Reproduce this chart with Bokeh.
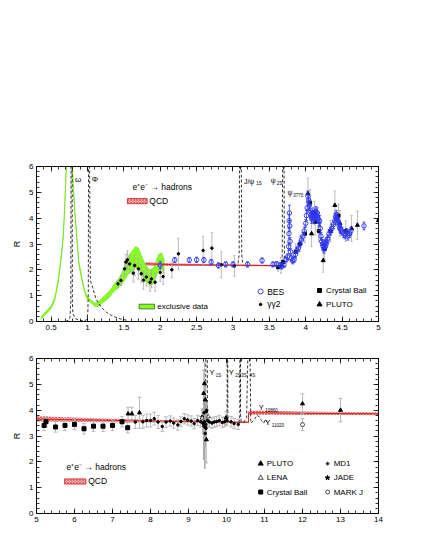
import numpy as np
from bokeh.plotting import figure
from bokeh.models import Label, LinearAxis, SingleIntervalTicker, Range1d, CustomJSTickFormatter
from bokeh.layouts import column
from bokeh.embed import file_html
from bokeh.resources import INLINE

FONT = "Liberation Sans"
GREY = "#a9a9a9"
BLUE = "#2a36f0"
RED = "#d02020"
PINK = "#f2b4b4"
GREEN = "#88ff22"

# ---------------- top panel data (sqrt(s) in GeV, R) ----------------
excl_x = [0.36, 0.40, 0.45, 0.50, 0.55, 0.60, 0.64, 0.67, 0.69, 0.71, 0.73, 0.76, 0.78, 0.79,
          0.82, 0.85, 0.88, 0.92, 0.95, 0.99, 1.02, 1.06, 1.10, 1.14, 1.18, 1.22, 1.26, 1.30,
          1.34, 1.38, 1.42, 1.46, 1.50, 1.54, 1.58, 1.62, 1.66, 1.70, 1.74, 1.78, 1.82, 1.86,
          1.90, 1.94, 1.98, 2.02, 2.06]
excl_R = [0.12, 0.25, 0.40, 0.55, 0.85, 1.6, 2.5, 3.4, 4.6, 6.0, 7.2, 7.8, 7.0, 6.0,
          4.5, 3.4, 2.3, 1.7, 1.3, 0.94, 0.85, 0.75, 0.65, 0.66, 0.75, 0.85, 0.95, 1.05,
          1.2, 1.35, 1.45, 1.6, 1.8, 2.05, 2.25, 2.35, 2.5, 2.45, 2.2, 1.95, 1.8, 1.7,
          1.75, 2.0, 2.3, 2.35, 2.1]
excl_w = [0.05, 0.05, 0.05, 0.05, 0.05, 0.06, 0.08, 0.1, 0.1, 0.1, 0.1, 0.1, 0.1, 0.1,
          0.1, 0.08, 0.06, 0.05, 0.05, 0.05, 0.05, 0.05, 0.06, 0.08, 0.1, 0.1, 0.12, 0.12,
          0.12, 0.14, 0.16, 0.2, 0.25, 0.3, 0.35, 0.4, 0.4, 0.4, 0.35, 0.35, 0.3, 0.3,
          0.3, 0.3, 0.3, 0.3, 0.25]

omega_x = [0.70, 0.74, 0.76, 0.772, 0.775, 0.782, 0.79, 0.793, 0.80, 0.83, 0.88, 0.95]
omega_R = [0.0, 0.05, 0.15, 0.8, 6.0, 9.0, 6.0, 0.8, 0.3, 0.12, 0.05, 0.02]
phi_x = [0.96, 0.99, 1.005, 1.012, 1.015, 1.022, 1.03, 1.04, 1.07, 1.12, 1.19, 1.26, 1.33, 1.45, 1.56]
phi_R = [0.02, 0.08, 0.3, 1.2, 6.0, 9.0, 6.0, 1.6, 1.33, 0.85, 0.55, 0.36, 0.23, 0.1, 0.04]
jpsi_x = [3.07, 3.085, 3.09, 3.1025, 3.115, 3.12, 3.135]
jpsi_R = [2.25, 2.6, 6.0, 9.0, 6.0, 2.6, 2.25]
psi2s_x = [3.66, 3.677, 3.682, 3.692, 3.702, 3.707, 3.72]
psi2s_R = [2.1, 2.4, 6.0, 9.0, 6.0, 2.4, 2.1]

qcd_top_x = [1.8, 2.2, 2.6, 3.0, 3.4, 3.7]
qcd_top_R = [2.23, 2.2, 2.19, 2.18, 2.17, 2.16]
qcd_top_w = [0.06, 0.05, 0.04, 0.03, 0.03, 0.03]

bes_x = [2.0, 2.2, 2.4, 2.5, 2.6, 2.7, 2.8, 2.9, 3.0, 3.2, 3.4, 3.55, 3.6, 3.65, 3.67, 3.70, 3.73,
         3.75, 3.765, 3.770, 3.773, 3.776, 3.780, 3.785, 3.79, 3.80, 3.82, 3.84, 3.86, 3.88,
         3.90, 3.92, 3.94, 3.96, 3.98, 4.00, 4.01, 4.02, 4.03, 4.04, 4.05, 4.06, 4.07, 4.08,
         4.09, 4.10, 4.11, 4.12, 4.13, 4.14, 4.15, 4.16, 4.17, 4.18, 4.19, 4.20, 4.21, 4.22,
         4.23, 4.24, 4.25, 4.26, 4.27, 4.28, 4.29, 4.30, 4.32, 4.34, 4.36, 4.38, 4.40, 4.41,
         4.42, 4.43, 4.44, 4.45, 4.46, 4.47, 4.48, 4.50, 4.52, 4.54, 4.56, 4.58, 4.60, 4.62, 4.80]
bes_R = [2.18, 2.38, 2.38, 2.39, 2.38, 2.30, 2.17, 2.21, 2.21, 2.21, 2.36, 2.21, 2.22, 2.18, 2.13, 2.2, 2.4,
         2.5, 2.9, 3.4, 3.9, 4.2, 3.7, 3.1, 2.7, 2.45, 2.35, 2.4, 2.6, 2.75,
         2.85, 3.0, 3.15, 3.3, 3.5, 3.8, 4.1, 4.4, 4.85, 4.7, 4.5, 4.3, 4.1, 4.0,
         4.05, 4.2, 4.1, 4.0, 4.15, 4.25, 4.1, 4.2, 4.0, 3.9, 3.9, 3.6, 3.3, 3.1,
         3.0, 2.9, 2.8, 3.0, 2.9, 3.0, 3.1, 3.2, 3.4, 3.5, 3.6, 3.75, 3.9, 4.05,
         4.15, 4.0, 3.9, 3.85, 3.7, 3.6, 3.55, 3.5, 3.4, 3.35, 3.45, 3.3, 3.4, 3.5, 3.7]
bes_err = [0.15, 0.1, 0.1, 0.1, 0.1, 0.1, 0.1, 0.1, 0.1, 0.1, 0.1, 0.1, 0.1, 0.1, 0.1, 0.1, 0.1,
           0.12, 0.15, 0.2, 0.25, 0.3, 0.2, 0.15, 0.12, 0.12, 0.12, 0.12, 0.12, 0.12,
           0.12, 0.12, 0.15, 0.15, 0.15, 0.15, 0.2, 0.2, 0.2, 0.2, 0.2, 0.2, 0.2, 0.2,
           0.2, 0.2, 0.2, 0.2, 0.2, 0.2, 0.2, 0.2, 0.2, 0.2, 0.2, 0.2, 0.15, 0.15,
           0.15, 0.15, 0.15, 0.15, 0.15, 0.15, 0.15, 0.15, 0.15, 0.15, 0.15, 0.15, 0.15, 0.15,
           0.15, 0.15, 0.15, 0.15, 0.15, 0.15, 0.15, 0.15, 0.15, 0.15, 0.15, 0.15, 0.15, 0.15, 0.15]

gg2_x = [1.42, 1.46, 1.51, 1.53, 1.55, 1.58, 1.63, 1.65, 1.70, 1.74, 1.77, 1.81, 1.86, 1.88,
         1.93, 2.00, 2.04, 2.16, 2.25, 2.59, 2.71, 2.84, 3.02]
gg2_R = [1.46, 1.59, 2.04, 2.3, 2.39, 2.23, 1.87, 2.17, 2.04, 1.85, 1.6, 1.72, 1.52, 1.65,
         1.52, 1.9, 1.74, 2.0, 2.62, 2.75, 2.84, 2.2, 2.15]
gg2_err = [0.15, 0.2, 0.3, 0.3, 0.35, 0.35, 0.35, 0.4, 0.4, 0.35, 0.35, 0.35, 0.35, 0.35,
           0.35, 0.35, 0.3, 0.3, 0.6, 0.55, 0.6, 0.5, 0.4]

cb_top_x = [3.62, 3.69, 3.86, 3.92, 3.99, 4.06, 4.12, 4.18, 4.26, 4.34, 4.45, 4.55]
cb_top_R = [2.1, 2.3, 2.7, 3.0, 3.4, 4.6, 4.2, 3.5, 2.8, 3.5, 4.1, 3.5]
cb_top_err = [0.15, 0.2, 0.3, 0.3, 0.35, 0.5, 0.45, 0.4, 0.4, 0.4, 0.45, 0.4]

pluto_top_x = [3.66, 4.03, 4.08, 4.13, 4.24, 4.40, 4.47, 4.63, 4.71, 5.0]
pluto_top_R = [2.17, 4.95, 3.4, 3.85, 2.36, 4.5, 3.8, 3.6, 3.73, 3.92]
pluto_top_err = [0.3, 0.6, 0.5, 0.5, 0.45, 0.55, 0.5, 0.5, 0.55, 0.5]

# ---------------- bottom panel data ----------------
qcd_bot_x = [5.0, 6.0, 7.0, 8.0, 9.0, 10.0, 10.58, 10.58, 11.0, 12.0, 13.0, 14.0]
qcd_bot_R = [3.66, 3.63, 3.6, 3.58, 3.56, 3.54, 3.53, 3.9, 3.9, 3.88, 3.87, 3.86]
qcd_bot_w = [0.1, 0.09, 0.07, 0.05, 0.04, 0.03, 0.03, 0.08, 0.08, 0.07, 0.06, 0.06]

ups1_x = [9.43, 9.452, 9.455, 9.475, 9.495, 9.498, 9.52]
ups1_R = [3.55, 4.0, 6.0, 9.0, 6.0, 4.0, 3.55]
ups2_x = [10.0, 10.015, 10.018, 10.025, 10.032, 10.035, 10.05]
ups2_R = [3.55, 3.8, 6.0, 9.0, 6.0, 3.8, 3.55]
ups3_x = [10.33, 10.35, 10.353, 10.36, 10.367, 10.37, 10.39]
ups3_R = [3.5, 3.8, 6.0, 9.0, 6.0, 3.8, 3.5]
ups4_x = [10.45, 10.53, 10.56, 10.59, 10.62, 10.64, 10.72, 10.80, 10.86, 10.92, 10.98, 11.02, 11.06, 11.12]
ups4_R = [3.52, 3.7, 6.0, 9.0, 6.0, 3.5, 3.6, 3.8, 3.75, 3.6, 3.5, 3.65, 3.55, 3.45]

cb_bot_x = [5.2, 5.25, 5.5, 5.75, 6.0, 6.25, 6.5, 6.75, 7.0, 7.25, 7.4]
cb_bot_R = [3.41, 3.55, 3.35, 3.41, 3.45, 3.28, 3.38, 3.38, 3.41, 3.55, 3.32]
cb_bot_err = [0.2, 0.2, 0.2, 0.2, 0.2, 0.2, 0.2, 0.2, 0.2, 0.2, 0.2]

md1_x = [7.6, 7.8, 7.9, 8.0, 8.1, 8.2, 8.31, 8.41, 8.52, 8.61, 8.72, 8.8, 8.89, 8.98, 9.07,
         9.15, 9.24, 9.32, 9.55, 9.62, 9.68, 9.74, 9.81, 9.89, 9.95, 10.01, 10.12, 10.2, 10.31]
md1_R = [3.54, 3.55, 3.6, 3.6, 3.67, 3.54, 3.37, 3.54, 3.58, 3.5, 3.43, 3.56, 3.67, 3.62, 3.58,
         3.48, 3.6, 3.55, 3.54, 3.5, 3.54, 3.56, 3.6, 3.52, 3.55, 3.6, 3.55, 3.48, 3.45]
md1_err = [0.25, 0.25, 0.25, 0.25, 0.25, 0.25, 0.2, 0.2, 0.2, 0.2, 0.2, 0.2, 0.2, 0.2, 0.2,
           0.2, 0.2, 0.2, 0.2, 0.2, 0.2, 0.2, 0.2, 0.2, 0.2, 0.2, 0.2, 0.2, 0.2]

ups_dot_x = [9.36, 9.38, 9.40, 9.41, 9.42, 9.43, 9.44, 9.45, 9.46, 9.47, 9.48, 9.50]
ups_dot_R = [3.75, 3.5, 3.4, 3.9, 3.55, 3.35, 3.1, 3.45, 3.3, 3.95, 4.0, 3.6]
ups_dot_err = [0.3, 0.4, 1.3, 0.6, 0.5, 1.6, 0.5, 0.6, 0.3, 0.5, 0.3, 0.25]

pluto_bot_x = [7.41, 7.51, 7.71, 9.40, 9.42, 9.44, 9.47, 9.99, 12.0, 13.0]
pluto_bot_R = [3.86, 3.86, 3.9, 4.65, 5.03, 4.4, 2.86, 3.7, 4.25, 4.0]
pluto_bot_err = [0.25, 0.25, 0.6, 0.9, 0.8, 0.7, 0.9, 0.25, 0.38, 0.45]

lena_x = [9.36, 9.52]
lena_R = [3.7, 3.75]
markj_x = [12.0]
markj_R = [3.44]
markj_err = [0.23]


def errbars(p, x, y, e, color, cap, width=0.8):
    x = np.asarray(x, float); y = np.asarray(y, float); e = np.asarray(e, float)
    p.segment(x, y - e, x, y + e, line_color=color, line_width=width)
    p.segment(x - cap, y - e, x + cap, y - e, line_color=color, line_width=width)
    p.segment(x - cap, y + e, x + cap, y + e, line_color=color, line_width=width)


def txt(p, x, y, s, size=8, align="left", baseline="middle", xo=0, yo=0):
    p.add_layout(Label(x=x, y=y, text=s, text_font=FONT, text_font_size=f"{size}px",
                       text_align=align, text_baseline=baseline, x_offset=xo, y_offset=yo,
                       text_color="black"))


def make_fig(x0, x1, xint, top, bottom):
    p = figure(frame_width=342, frame_height=155, x_range=Range1d(x0, x1), y_range=Range1d(0, 6),
               output_backend="svg", toolbar_location=None, min_border_left=36,
               min_border_right=30, min_border_top=top, min_border_bottom=bottom)
    p.grid.visible = False
    p.outline_line_color = "black"
    p.outline_line_width = 0.8
    p.xaxis.ticker = SingleIntervalTicker(interval=xint, num_minor_ticks=5)
    p.yaxis.ticker = SingleIntervalTicker(interval=1, num_minor_ticks=5)
    blank = CustomJSTickFormatter(code="return '';")
    p.add_layout(LinearAxis(ticker=SingleIntervalTicker(interval=xint, num_minor_ticks=5),
                            formatter=blank), "above")
    p.add_layout(LinearAxis(ticker=SingleIntervalTicker(interval=1, num_minor_ticks=5),
                            formatter=blank), "right")
    for ax in p.axis:
        ax.major_tick_in = 5
        ax.major_tick_out = 0
        ax.minor_tick_in = 3
        ax.minor_tick_out = 0
        ax.axis_line_width = 0.8
        ax.axis_line_color = "black"
        ax.major_tick_line_color = "black"
        ax.minor_tick_line_color = "black"
        ax.major_tick_line_width = 0.8
        ax.minor_tick_line_width = 0.8
        ax.major_label_text_font = FONT
        ax.major_label_text_font_size = "8px"
        ax.major_label_text_color = "black"
        ax.major_label_standoff = 3
    for ax in p.above + p.right:
        ax.major_label_standoff = 0
    p.yaxis[0].axis_label = "R"
    p.yaxis[0].axis_label_text_font = FONT
    p.yaxis[0].axis_label_text_font_size = "9px"
    p.yaxis[0].axis_label_text_font_style = "normal"
    p.yaxis[0].axis_label_text_color = "black"
    p.yaxis[0].axis_label_standoff = 4
    return p


# ================= TOP =================
p1 = make_fig(0.3, 5.0, 0.5, 166, 22)

ex = np.array(excl_x); eR = np.array(excl_R); ew = np.array(excl_w)
p1.varea(x=ex, y1=eR - ew, y2=eR + ew, fill_color=GREEN)
p1.line(ex, eR - ew, line_color="#66dd00", line_width=0.6)
p1.line(ex, eR + ew, line_color="#66dd00", line_width=0.6)

for xs, rs in [(omega_x, omega_R), (phi_x, phi_R), (jpsi_x, jpsi_R), (psi2s_x, psi2s_R)]:
    p1.line(xs, rs, line_color="black", line_dash="3 2", line_width=0.8)

qx = np.array(qcd_top_x); qR = np.array(qcd_top_R); qw = np.array(qcd_top_w)
p1.varea(x=qx, y1=qR - qw, y2=qR + qw, fill_color=PINK, hatch_pattern="x",
         hatch_color=RED, hatch_scale=3, hatch_weight=0.5)
p1.line(qx, qR, line_color=RED, line_width=1)

errbars(p1, gg2_x, gg2_R, gg2_err, GREY, 0.015)
errbars(p1, cb_top_x, cb_top_R, cb_top_err, GREY, 0.015)
errbars(p1, pluto_top_x, pluto_top_R, pluto_top_err, GREY, 0.015)
p1.scatter(gg2_x, gg2_R, marker="circle", size=2.5, color="black")
p1.scatter(cb_top_x, cb_top_R, marker="square", size=3, color="black")
p1.scatter(pluto_top_x, pluto_top_R, marker="triangle", size=4, color="black")
errbars(p1, bes_x, bes_R, bes_err, BLUE, 0.02)
p1.scatter(bes_x, bes_R, marker="circle", size=4.5, fill_color="white", fill_alpha=0.0,
           line_color=BLUE, line_width=0.9)

# texts / legends top
txt(p1, 0.83, 5.49, "ω", 8)
txt(p1, 1.06, 5.49, "Φ", 8)
txt(p1, 1.62, 5.2, "e⁺e⁻ → hadrons", 8.5)
p1.quad(left=[1.55], right=[1.82], bottom=[4.56], top=[4.76], fill_color=PINK, hatch_pattern="x",
        hatch_color=RED, hatch_scale=3, hatch_weight=0.5, line_color=RED, line_width=0.8)
txt(p1, 1.85, 4.66, "QCD", 8.5)
p1.quad(left=[1.71], right=[1.92], bottom=[0.49], top=[0.67], fill_color=GREEN,
        line_color="#226600", line_width=0.8)
txt(p1, 1.96, 0.58, "exclusive data", 8)
txt(p1, 3.15, 5.42, "J/ψ", 7)
txt(p1, 3.32, 5.42, "1S", 4.5, yo=-2.5)
txt(p1, 3.52, 5.44, "ψ", 7)
txt(p1, 3.6, 5.44, "2S", 4.5, yo=-2.5)
txt(p1, 3.75, 5.0, "ψ", 7)
txt(p1, 3.83, 5.0, "3770", 4.5, yo=-2.5)
p1.scatter([3.38], [1.16], marker="circle", size=5, fill_color="white", line_color=BLUE, line_width=0.9)
txt(p1, 3.47, 1.16, "BES", 8.5)
p1.scatter([3.38], [0.66], marker="circle", size=2.5, color="black")
txt(p1, 3.47, 0.66, "γγ2", 8.5)
p1.scatter([4.19], [1.2], marker="square", size=4, color="black")
txt(p1, 4.28, 1.2, "Crystal Ball", 8)
p1.scatter([4.19], [0.66], marker="triangle", size=5, color="black")
txt(p1, 4.28, 0.66, "PLUTO", 8)
txt(p1, 4.27, -0.47, "√s   (GeV)", 8.5)

# ================= BOTTOM =================
p2 = make_fig(5.0, 14.0, 1, 15, 25)
bx = np.array(qcd_bot_x); bR = np.array(qcd_bot_R); bw = np.array(qcd_bot_w)
p2.varea(x=bx, y1=bR - bw, y2=bR + bw, fill_color=PINK, hatch_pattern="x",
         hatch_color=RED, hatch_scale=3, hatch_weight=0.5)
p2.line(bx, bR, line_color=RED, line_width=1)

for xs, rs in [(ups1_x, ups1_R), (ups2_x, ups2_R), (ups3_x, ups3_R), (ups4_x, ups4_R)]:
    p2.line(xs, rs, line_color="black", line_dash="3 2", line_width=0.8)

errbars(p2, cb_bot_x, cb_bot_R, cb_bot_err, GREY, 0.05)
errbars(p2, md1_x, md1_R, md1_err, GREY, 0.05)
errbars(p2, ups_dot_x, ups_dot_R, ups_dot_err, GREY, 0.02, width=1.5)
errbars(p2, pluto_bot_x, pluto_bot_R, pluto_bot_err, GREY, 0.05)
errbars(p2, markj_x, markj_R, markj_err, GREY, 0.05)
p2.scatter(cb_bot_x, cb_bot_R, marker="square", size=4, color="black")
p2.scatter(md1_x, md1_R, marker="circle", size=2.5, color="black")
p2.scatter(ups_dot_x, ups_dot_R, marker="circle", size=2.5, color="black")
p2.scatter(pluto_bot_x, pluto_bot_R, marker="triangle", size=4, color="black")
p2.scatter(lena_x, lena_R, marker="triangle", size=4, fill_color="white", line_color="black", line_width=0.6)
p2.scatter(markj_x, markj_R, marker="circle", size=4, fill_color="white", line_color="black", line_width=0.7)

txt(p2, 5.79, 1.79, "e⁺e⁻ → hadrons", 8.5)
p2.quad(left=[5.74], right=[6.3], bottom=[1.14], top=[1.34], fill_color=PINK, hatch_pattern="x",
        hatch_color=RED, hatch_scale=3, hatch_weight=0.5, line_color=RED, line_width=0.8)
txt(p2, 6.36, 1.24, "QCD", 8.5)
txt(p2, 9.55, 5.45, "Υ", 7.5)
txt(p2, 9.72, 5.45, "1S", 4.5, yo=-2.5)
txt(p2, 10.06, 5.45, "Υ", 7.5)
txt(p2, 10.23, 5.45, "2S", 4.5, yo=-2.5)
txt(p2, 10.39, 5.45, "3S", 4.5, yo=-2.5)
txt(p2, 10.61, 5.45, "4S", 4.5, yo=-2.5)
txt(p2, 10.85, 4.1, "Υ", 7.5)
txt(p2, 11.02, 4.1, "10860", 4.5, yo=-2.5)
txt(p2, 11.02, 3.52, "Υ", 7.5)
txt(p2, 11.19, 3.52, "11020", 4.5, yo=-2.5)

p2.scatter([10.9], [1.93], marker="triangle", size=5, color="black")
txt(p2, 11.06, 1.93, "PLUTO", 8)
p2.scatter([10.9], [1.38], marker="triangle", size=5, fill_color="white", line_color="black", line_width=0.7)
txt(p2, 11.06, 1.38, "LENA", 8)
p2.scatter([10.9], [0.83], marker="square", size=4, color="black")
txt(p2, 11.06, 0.83, "Crystal Ball", 8)
p2.scatter([12.66], [1.93], marker="asterisk", size=4, line_color="black", line_width=0.7)
txt(p2, 12.82, 1.93, "MD1", 8)
p2.scatter([12.66], [1.38], marker="star", size=5, color="black")
txt(p2, 12.82, 1.38, "JADE", 8)
p2.scatter([12.66], [0.83], marker="circle", size=4, fill_color="white", line_color="black", line_width=0.7)
txt(p2, 12.82, 0.83, "MARK J", 8)
txt(p2, 12.63, -0.66, "√s   (GeV)", 8.5)

layout = column(p1, p2, spacing=0)
open("out.html", "w").write(file_html(layout, INLINE))
